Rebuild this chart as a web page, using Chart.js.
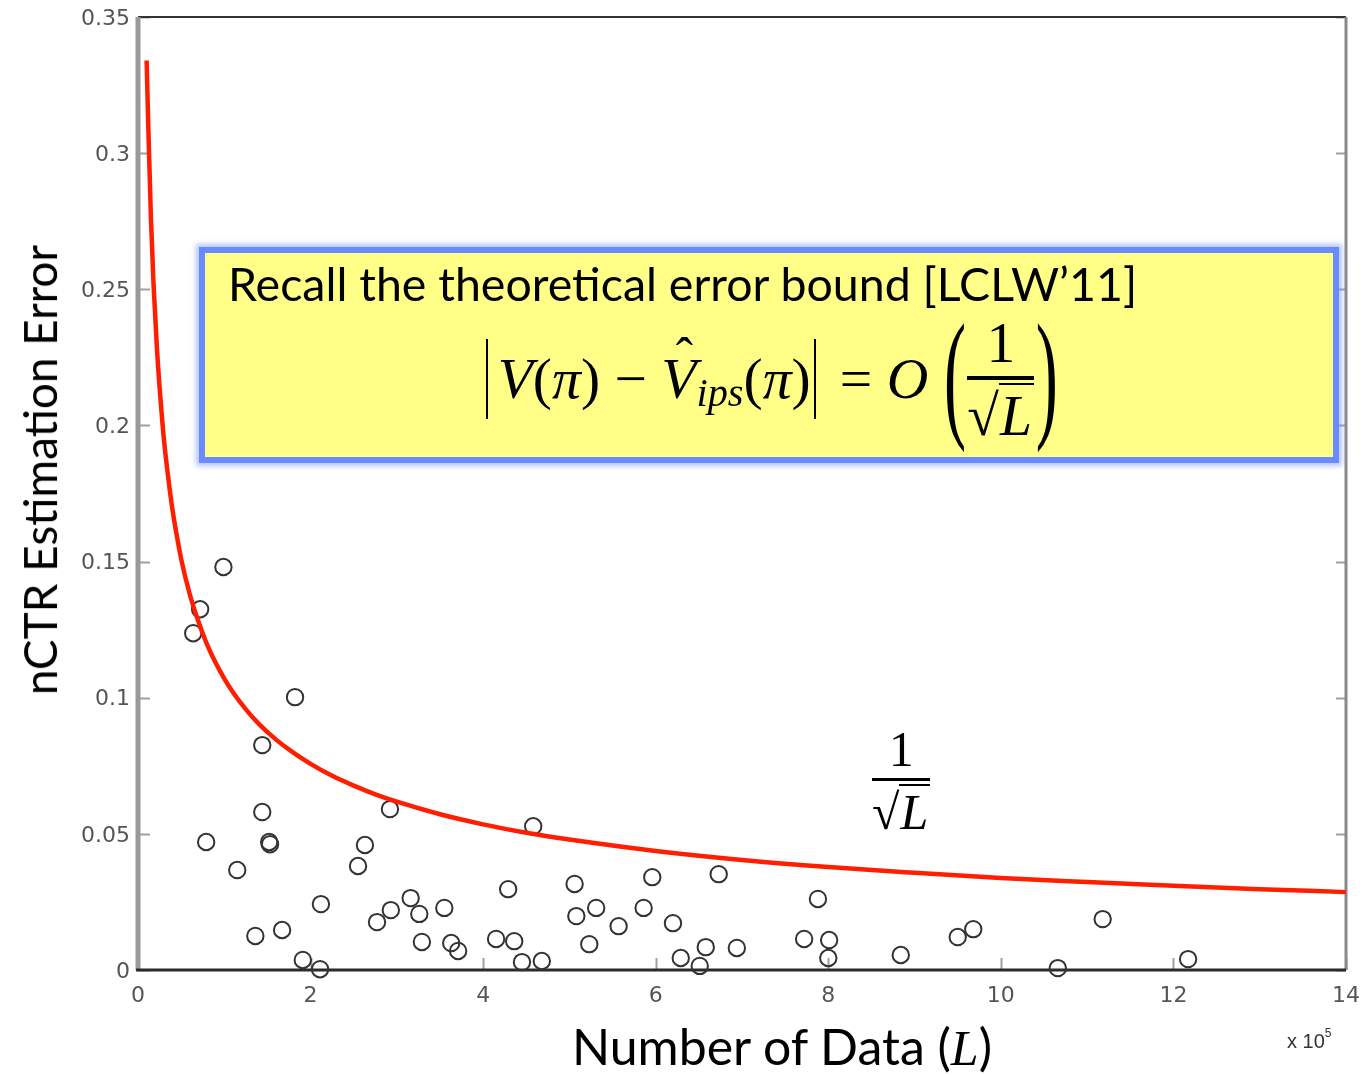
<!DOCTYPE html>
<html><head><meta charset="utf-8">
<script src="https://cdn.jsdelivr.net/npm/chart.js@4.4.0/dist/chart.umd.min.js"></script>
<style>
html,body{margin:0;padding:0;background:#fff;}
#wrap{position:relative;width:1363px;height:1075px;overflow:hidden;background:#fff;}
#c{position:absolute;left:0;top:0;}
.abs{position:absolute;white-space:nowrap;line-height:1;}
#ytitle{font-family:Lato,"Open Sans",sans-serif;font-size:42px;color:#000;left:40px;top:470px;transform:translate(-50%,-50%) rotate(-90deg);}
#xtitle{font-family:Lato,"Open Sans",sans-serif;font-size:42px;color:#000;left:782px;top:1048px;transform:translate(-50%,-50%);}
#xtitle i{font-family:"Liberation Serif",serif;}
#mult{font-family:"Liberation Sans",Arial,sans-serif;font-size:20px;color:#333;left:1287px;top:1030px;}
#mult sup{font-size:12px;position:relative;top:-3px;}
#box{position:absolute;left:199px;top:247px;width:1140px;height:216px;box-sizing:border-box;border:6px solid #6a8bff;background:#ffff88;box-shadow:0 0 5px 3px rgba(110,140,255,0.5);}
#recall{font-family:Lato,"Open Sans",sans-serif;font-size:40px;color:#000;left:228px;top:260px;}
.math{font-family:"Liberation Serif","DejaVu Serif",serif;color:#000;}
#formula{left:483px;top:314px;height:130px;display:flex;align-items:center;font-size:52px;}
.absbar{display:inline-block;width:0.16em;height:1.4em;border-left:0.04em solid #000;margin-left:0.06em;}
.hat{position:relative;display:inline-block;}
.caret{position:absolute;left:0.28em;top:-0.38em;font-style:normal;font-size:0.9em;}
.sub{font-size:0.7em;position:relative;top:0.35em;}
.bigp{display:inline-block;font-size:1.15em;transform:scaleY(2.15);margin:0 0.02em;position:relative;top:-0.06em;}
.frac{display:inline-flex;flex-direction:column;align-items:center;}
.frac .num{line-height:1;padding-bottom:0.08em;}
.frac .bar{align-self:stretch;border-top:0.07em solid #000;}
.frac .den{line-height:1;padding-top:0.06em;display:flex;align-items:flex-end;}
.ov{border-top:0.05em solid #000;padding:0.02em 0.04em 0 0.02em;line-height:1;}
#lab{left:872px;top:724px;font-size:50px;}
</style>
</head><body>
<div id="wrap">
<canvas id="c" width="1363" height="1075"></canvas>
<div id="ytitle" class="abs">nCTR Estimation Error</div>
<div id="xtitle" class="abs">Number of Data (<i>L</i>)</div>
<div id="mult" class="abs">x 10<sup>5</sup></div>
<div id="box"></div>
<div id="recall" class="abs">Recall the theoretical error bound [LCLW’11]</div>
<div id="formula" class="abs math"><span class="absbar"></span><i>V</i>(<i>π</i>)&nbsp;−&nbsp;<span class="hat"><i>V</i><span class="caret">ˆ</span></span><span class="sub"><i>ips</i></span>(<i>π</i>)<span class="absbar"></span>&nbsp;=&nbsp;<i>O</i>&nbsp;<span class="bigp">(</span><span class="frac"><span class="num">1</span><span class="bar"></span><span class="den">√<span class="ov"><i>L</i></span></span></span><span class="bigp">)</span></div>
<div id="lab" class="abs math"><span class="frac"><span class="num">1</span><span class="bar"></span><span class="den">√<span class="ov"><i>L</i></span></span></span></div>
</div>
<script>
// ---- data ----
const curveX = [0.1,0.12,0.15,0.18,0.22,0.26,0.3,0.35,0.4,0.45,0.5,0.6,0.7,0.8,0.9,1.0,1.1,1.25,1.4,1.6,1.8,2.0,2.25,2.5,2.75,3,3.5,4,4.5,5,6,7,8,9,10,11,12,13,14];
const curveY = [0.334,0.309,0.276,0.252,0.228,0.210,0.195,0.181,0.169,0.1595,0.151,0.138,0.128,0.1196,0.1128,0.107,0.102,0.0957,0.0904,0.0846,0.0798,0.0757,0.0713,0.0677,0.0645,0.0618,0.0572,0.0535,0.0504,0.0479,0.0437,0.0404,0.0378,0.0357,0.0338,0.0323,0.0309,0.0297,0.0286];
const ptX = [0.99,0.72,0.64,1.82,1.44,1.44,0.79,1.52,1.53,1.15,2.12,1.67,1.36,1.91,2.11,2.92,2.63,2.55,2.77,2.93,3.16,3.26,3.55,3.29,3.63,3.71,4.15,4.36,4.45,4.68,4.29,4.58,5.06,5.08,5.31,5.57,5.23,5.96,5.86,6.2,6.29,6.51,6.58,6.73,6.94,7.88,7.72,8.01,8.0,8.84,9.5,9.68,11.18,10.66,12.17];
const ptY = [0.148,0.1325,0.1237,0.1002,0.0826,0.058,0.047,0.047,0.0462,0.0367,0.0242,0.0147,0.0125,0.0037,0.0003,0.0591,0.0459,0.0382,0.0176,0.022,0.0264,0.0206,0.0228,0.0103,0.0099,0.007,0.0114,0.0106,0.0029,0.0033,0.0297,0.0528,0.0316,0.0198,0.0228,0.0161,0.0095,0.0341,0.0228,0.0172,0.0044,0.0015,0.0084,0.0352,0.0081,0.0261,0.0114,0.011,0.0044,0.0055,0.0121,0.015,0.0187,0.0007,0.004];
const xTickLabels = ['0','2','4','6','8','10','12','14'];
const yTickLabels = ['0','0.05','0.1','0.15','0.2','0.25','0.3','0.35'];

function fit(id, target){
  const el = document.getElementById(id);
  const fs = parseFloat(getComputedStyle(el).fontSize);
  el.style.fontSize = (fs * target / el.offsetWidth) + 'px';
}
fit('ytitle', 450);
fit('xtitle', 420);
fit('recall', 910);
fit('formula', 577);
fit('lab', 58);

const framePlugin = {
  id:'frame',
  beforeDatasetsDraw(chart){
    const ctx = chart.ctx, a = chart.chartArea;
    const xs = chart.scales.x, ys = chart.scales.y;
    ctx.save();
    ctx.lineCap = 'butt';
    ctx.strokeStyle = '#a0a0a0'; ctx.lineWidth = 2;
    ys.ticks.forEach(t => {
      const y = Math.round(ys.getPixelForValue(t.value)) + 0.5;
      ctx.beginPath(); ctx.moveTo(a.left, y); ctx.lineTo(a.left + 12, y); ctx.stroke();
      ctx.beginPath(); ctx.moveTo(a.right - 10, y); ctx.lineTo(a.right, y); ctx.stroke();
    });
    xs.ticks.forEach(t => {
      const x = Math.round(xs.getPixelForValue(t.value)) + 0.5;
      ctx.beginPath(); ctx.moveTo(x, a.bottom); ctx.lineTo(x, a.bottom - 12); ctx.stroke();
    });
    ctx.strokeStyle = '#333'; ctx.lineWidth = 2;
    ctx.beginPath(); ctx.moveTo(a.left, a.top); ctx.lineTo(a.right, a.top); ctx.stroke();
    ctx.strokeStyle = '#8a8a8a'; ctx.lineWidth = 3;
    ctx.beginPath(); ctx.moveTo(a.right, a.top); ctx.lineTo(a.right, a.bottom); ctx.stroke();
    ctx.strokeStyle = '#999'; ctx.lineWidth = 5;
    ctx.beginPath(); ctx.moveTo(a.left, a.top); ctx.lineTo(a.left, a.bottom); ctx.stroke();
    ctx.strokeStyle = '#2b2b2b'; ctx.lineWidth = 3;
    ctx.beginPath(); ctx.moveTo(a.left - 2, a.bottom); ctx.lineTo(a.right, a.bottom); ctx.stroke();
    ctx.restore();
  }
};

const tickFont = {family:'"DejaVu Sans", "Liberation Sans", sans-serif', size:22};

new Chart(document.getElementById('c'), {
  type:'scatter',
  data:{
    datasets:[
      {
        label:'1/sqrt(L)',
        data: curveX.map((x,i)=>({x:x, y:curveY[i]})),
        showLine:true, borderColor:'#ff1e00', borderWidth:4.5,
        pointRadius:0, cubicInterpolationMode:'monotone', fill:false
      },
      {
        label:'nCTR error',
        data: ptX.map((x,i)=>({x:x, y:ptY[i]})),
        showLine:false, pointStyle:'circle', pointRadius:8.2,
        borderColor:'#333', borderWidth:2, backgroundColor:'rgba(0,0,0,0)',
        clip:false
      }
    ]
  },
  options:{
    responsive:false, animation:false,
    layout:{padding:{top:17,right:17,left:0,bottom:0}},
    plugins:{legend:{display:false}, tooltip:{enabled:false}},
    scales:{
      x:{
        type:'linear', min:0, max:14,
        ticks:{stepSize:2, color:'#555', padding:13, maxRotation:0, font:tickFont,
          callback:(v,i)=>xTickLabels[i]},
        grid:{display:false, drawTicks:false}, border:{display:false},
        afterFit:s=>{s.height = 105; s.paddingLeft = 0; s.paddingRight = 0;}
      },
      y:{
        type:'linear', min:0, max:0.35,
        ticks:{stepSize:0.05, color:'#555', padding:8, labelOffset:2, font:tickFont,
          callback:(v,i)=>yTickLabels[i]},
        grid:{display:false, drawTicks:false}, border:{display:false},
        afterFit:s=>{s.width = 138; s.paddingTop = 0; s.paddingBottom = 0;}
      }
    }
  },
  plugins:[framePlugin]
});
</script>
</body></html>
